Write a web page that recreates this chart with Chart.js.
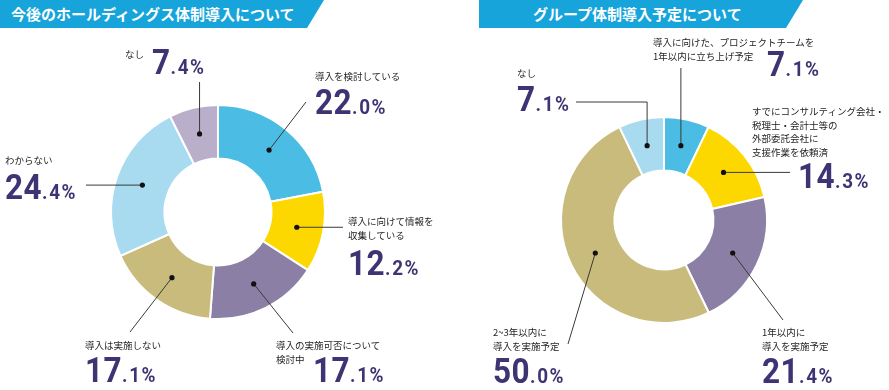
<!DOCTYPE html>
<html><head><meta charset="utf-8">
<script src="https://cdn.jsdelivr.net/npm/chart.js@4/dist/chart.umd.min.js"></script>
<style>
html,body{margin:0;padding:0;background:#fff;}
#wrap{position:relative;width:889px;height:390px;overflow:hidden;font-family:"Noto Sans CJK JP",sans-serif;}
canvas{position:absolute;left:0;top:0;}
.banner{position:absolute;top:0;height:28px;background:#16a4db;color:#fff;font-weight:bold;font-size:15px;line-height:28px;white-space:nowrap;clip-path:polygon(0 0,100% 0,calc(100% - 17px) 100%,0 100%);}
.cat{position:absolute;font-size:9.5px;line-height:13.5px;color:#1e1e1e;white-space:pre;}
.num{position:absolute;font-family:Roboto,sans-serif;font-weight:bold;font-size:35px;line-height:35px;color:#3d3573;letter-spacing:0.5px;white-space:nowrap;transform:scaleX(0.9);transform-origin:0 0;}
.num span{font-size:21px;letter-spacing:1.8px;}
</style>
</head><body>
<div id="wrap">
<canvas id="cA" width="889" height="390"></canvas>
<canvas id="cB" width="889" height="390"></canvas>
</div>
<script>
// ---- data ----
const titleA = "今後のホールディングス体制導入について";
const categoriesA = ["導入を検討している","導入に向けて情報を\n収集している","導入の実施可否について\n検討中","導入は実施しない","わからない","なし"];
const valuesA = [22.0, 12.2, 17.1, 17.1, 24.4, 7.4];

const titleB = "グループ体制導入予定について";
const categoriesB = ["導入に向けた、プロジェクトチームを\n1年以内に立ち上げ予定","すでにコンサルティング会社・\n税理士・会計士等の\n外部委託会社に\n支援作業を依頼済","1年以内に\n導入を実施予定","2~3年以内に\n導入を実施予定","なし"];
const valuesB = [7.1, 14.3, 21.4, 50.0, 7.1];

// ---- styles / layout ----
const colorsA = ["#4bbde4","#fcd800","#8b7fa5","#c8bb7b","#a8dbef","#b9afca"];
const colorsB = ["#4bbde4","#fcd800","#8b7fa5","#c8bb7b","#a8dbef"];

const layoutA = {
  padding:{left:111,right:564,top:105,bottom:71}, radius:107, cutout:'50%',
  banner:{left:0,width:324,pad:11},
  labels:[
    {cat:[315,77], num:[315,114], lead:{x:306,y:102}},
    {cat:[348,222], num:[348,275], lead:{hx:343}},
    {cat:[276,346], num:[313,382], lead:{x:293,y:333}},
    {cat:[85,346], num:[85,382], lead:{x:130,y:332}},
    {cat:[5,161], num:[5,199], lead:{hx:86}},
    {cat:[125,55], num:[152,74], lead:{vy:82}}
  ]
};
const layoutB = {
  padding:{left:561,right:122,top:117,bottom:67}, radius:103, cutout:'48%',
  banner:{left:479,width:324,pad:54},
  labels:[
    {cat:[653,43], num:[767,76], lead:{vy:68}},
    {cat:[752,112], num:[798,188], lead:{hx:790}},
    {cat:[762,333], num:[762,383], lead:{x:783,y:320}},
    {cat:[493,333], num:[493,383], lead:{x:568,y:344}},
    {cat:[517,74], num:[517,111], lead:{vy:102,hx:576}}
  ]
};

const wrap = document.getElementById('wrap');
function fmt(v){ const s=v.toFixed(1); const i=s.indexOf('.'); return [s.slice(0,i), s.slice(i)+'%']; }

function addTexts(title, cats, vals, lay){
  const b=document.createElement('div'); b.className='banner';
  b.style.left=lay.banner.left+'px'; b.style.width=(lay.banner.width-lay.banner.pad)+'px';
  b.style.paddingLeft=lay.banner.pad+'px'; b.textContent=title; wrap.appendChild(b);
  cats.forEach((c,i)=>{
    const L=lay.labels[i];
    const d=document.createElement('div'); d.className='cat';
    d.style.left=L.cat[0]+'px'; d.style.top=(L.cat[1]-6.75)+'px'; d.textContent=c; wrap.appendChild(d);
    const n=document.createElement('div'); n.className='num';
    const p=fmt(vals[i]);
    n.style.left=L.num[0]+'px'; n.style.top=(L.num[1]-29)+'px';
    n.appendChild(document.createTextNode(p[0]));
    const s=document.createElement('span'); s.textContent=p[1]; n.appendChild(s);
    wrap.appendChild(n);
  });
}

const leaderPlugin = {
  id:'leaders',
  afterDatasetsDraw(chart){
    const lay = chart.options.plugins.leaders.layout;
    const ctx = chart.ctx;
    chart.getDatasetMeta(0).data.forEach((arc,i)=>{
      const p = arc.tooltipPosition(true);
      const L = lay.labels[i].lead;
      ctx.save();
      ctx.strokeStyle='#3a3a3a'; ctx.lineWidth=1;
      ctx.beginPath(); ctx.moveTo(p.x,p.y);
      if(L.vy!==undefined && L.hx!==undefined){ ctx.lineTo(p.x,L.vy); ctx.lineTo(L.hx,L.vy); }
      else if(L.vy!==undefined){ ctx.lineTo(p.x,L.vy); }
      else if(L.hx!==undefined){ ctx.lineTo(L.hx,p.y); }
      else { ctx.lineTo(L.x,L.y); }
      ctx.stroke();
      ctx.fillStyle='#111'; ctx.beginPath(); ctx.arc(p.x,p.y,2.6,0,Math.PI*2); ctx.fill();
      ctx.restore();
    });
  }
};

function makeChart(id, cats, vals, colors, lay){
  return new Chart(document.getElementById(id), {
    type:'doughnut',
    data:{labels:cats, datasets:[{data:vals, backgroundColor:colors, borderColor:'#ffffff', borderWidth:2}]},
    options:{
      responsive:false, animation:false, radius:lay.radius, cutout:lay.cutout,
      layout:{padding:lay.padding},
      plugins:{legend:{display:false}, tooltip:{enabled:false}, leaders:{layout:lay}}
    },
    plugins:[leaderPlugin]
  });
}

makeChart('cA', categoriesA, valuesA, colorsA, layoutA);
makeChart('cB', categoriesB, valuesB, colorsB, layoutB);
addTexts(titleA, categoriesA, valuesA, layoutA);
addTexts(titleB, categoriesB, valuesB, layoutB);
</script>
</body></html>
